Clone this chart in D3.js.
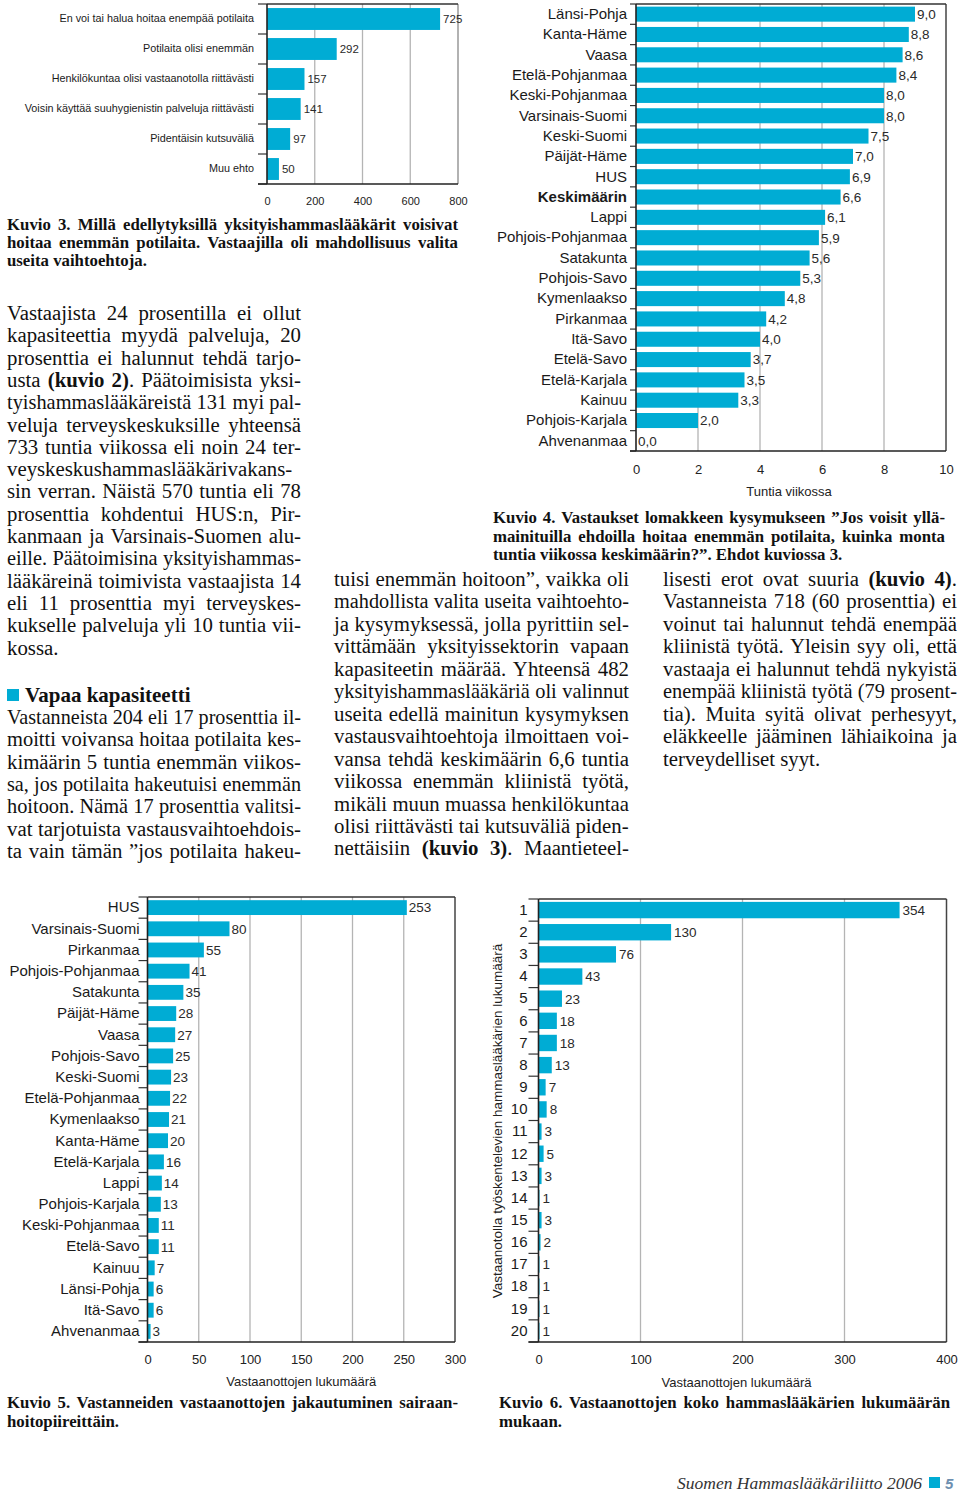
<!DOCTYPE html>
<html><head><meta charset="utf-8">
<script src="https://cdn.jsdelivr.net/npm/d3@7"></script>
<style>body{margin:0;background:#fff} svg{display:block}</style>
</head><body>
<svg id="page" width="960" height="1492"></svg>
<script>
// ---------- DATA ----------
const c3Categories = ["En voi tai halua hoitaa enempää potilaita","Potilaita olisi enemmän","Henkilökuntaa olisi vastaanotolla riittävästi","Voisin käyttää suuhygienistin palveluja riittävästi","Pidentäisin kutsuväliä","Muu ehto"];
const c3Values = [725,292,157,141,97,50];
const c3Ticks = [0,200,400,600,800];

const c4Categories = ["Länsi-Pohja","Kanta-Häme","Vaasa","Etelä-Pohjanmaa","Keski-Pohjanmaa","Varsinais-Suomi","Keski-Suomi","Päijät-Häme","HUS","Keskimäärin","Lappi","Pohjois-Pohjanmaa","Satakunta","Pohjois-Savo","Kymenlaakso","Pirkanmaa","Itä-Savo","Etelä-Savo","Etelä-Karjala","Kainuu","Pohjois-Karjala","Ahvenanmaa"];
const c4Values = [9.0,8.8,8.6,8.4,8.0,8.0,7.5,7.0,6.9,6.6,6.1,5.9,5.6,5.3,4.8,4.2,4.0,3.7,3.5,3.3,2.0,0.0];
const c4Ticks = [0,2,4,6,8,10];

const c5Categories = ["HUS","Varsinais-Suomi","Pirkanmaa","Pohjois-Pohjanmaa","Satakunta","Päijät-Häme","Vaasa","Pohjois-Savo","Keski-Suomi","Etelä-Pohjanmaa","Kymenlaakso","Kanta-Häme","Etelä-Karjala","Lappi","Pohjois-Karjala","Keski-Pohjanmaa","Etelä-Savo","Kainuu","Länsi-Pohja","Itä-Savo","Ahvenanmaa"];
const c5Values = [253,80,55,41,35,28,27,25,23,22,21,20,16,14,13,11,11,7,6,6,3];
const c5Ticks = [0,50,100,150,200,250,300];

const c6Categories = ["1","2","3","4","5","6","7","8","9","10","11","12","13","14","15","16","17","18","19","20"];
const c6Values = [354,130,76,43,23,18,18,13,7,8,3,5,3,1,3,2,1,1,1,1];
const c6Ticks = [0,100,200,300,400];

// ---------- STYLE ----------
const BLUE = "#00acd4";
const SANS = "'Liberation Sans', Arial, sans-serif";
const SERIF = "'Liberation Serif', 'Times New Roman', serif";
const svg = d3.select("#page");

function drawBar(o) {
  const g = svg.append("g");
  const x = d3.scaleLinear().domain([0, o.max]).range([o.left, o.right]);
  const y = d3.scaleBand().domain(o.cats).range([o.top, o.bottom]).padding(0);
  g.selectAll(null).data(o.ticks.filter(t => t > 0 && t < o.max)).join("line")
    .attr("x1", d => x(d)).attr("x2", d => x(d)).attr("y1", o.top).attr("y2", o.bottom)
    .attr("stroke", "#b4b4b4").attr("stroke-width", 1.3);
  g.append("line").attr("x1", x(o.max)).attr("x2", x(o.max)).attr("y1", o.top).attr("y2", o.bottom)
    .attr("stroke", o.rightColor).attr("stroke-width", 1.5);
  g.append("line").attr("x1", x(0)).attr("x2", x(o.max)).attr("y1", o.top).attr("y2", o.top)
    .attr("stroke", "#333").attr("stroke-width", 1.3);
  const pad = y.bandwidth() * o.pad;
  g.selectAll(null).data(o.cats).join("rect")
    .attr("x", x(0)).attr("y", d => y(d) + pad)
    .attr("width", (d, i) => x(o.vals[i]) - x(0))
    .attr("height", y.bandwidth() - 2 * pad)
    .attr("fill", BLUE);
  const bounds = o.cats.map(c => y(c)).concat([o.bottom]);
  g.selectAll(null).data(bounds).join("line")
    .attr("x1", x(0) - o.tickLen).attr("x2", x(0)).attr("y1", d => d).attr("y2", d => d)
    .attr("stroke", "#333").attr("stroke-width", 1.2);
  g.append("line").attr("x1", x(0)).attr("x2", x(0)).attr("y1", o.top).attr("y2", o.bottom)
    .attr("stroke", "#222").attr("stroke-width", 1.6);
  g.append("line").attr("x1", x(0) - o.tickLen).attr("x2", x(o.max)).attr("y1", o.bottom).attr("y2", o.bottom)
    .attr("stroke", "#222").attr("stroke-width", 1.6);
  const ya = g.append("g").attr("transform", `translate(${x(0)},0)`)
    .call(d3.axisLeft(y).tickSize(0).tickPadding(o.labelGap));
  ya.select(".domain").remove();
  ya.selectAll("text").attr("font-family", SANS).attr("font-size", o.labelFont).attr("fill", "#1a1a1a")
    .attr("font-weight", d => (o.bold && o.bold.includes(d)) ? "bold" : "normal");
  g.selectAll(null).data(o.cats).join("text")
    .attr("x", (d, i) => x(o.vals[i]) + o.valGap)
    .attr("y", d => y(d) + y.bandwidth() / 2).attr("dy", "0.36em")
    .attr("font-family", SANS).attr("font-size", o.valFont).attr("fill", "#2a2a2a")
    .text((d, i) => o.fmt(o.vals[i]));
  const xa = g.append("g").attr("transform", `translate(0,${o.bottom})`)
    .call(d3.axisBottom(x).tickValues(o.ticks).tickSize(0).tickPadding(o.tickPad).tickFormat(o.tickFmt || d3.format("d")));
  xa.select(".domain").remove();
  xa.selectAll("text").attr("font-family", SANS).attr("font-size", o.tickFont).attr("fill", "#222");
  if (o.title) {
    g.append("text").attr("x", (x(0) + x(o.max)) / 2 + (o.titleDx || 0)).attr("y", o.titleY)
      .attr("text-anchor", "middle").attr("font-family", SANS).attr("font-size", o.titleFont).attr("fill", "#222")
      .text(o.title);
  }
  return {x, y};
}

const fmtComma = v => d3.format(".1f")(v).replace(".", ",");

drawBar({cats: c3Categories, vals: c3Values, max: 800, ticks: c3Ticks, left: 267, right: 458, top: 4, bottom: 184,
  pad: 0.135, tickLen: 9, labelGap: 13, labelFont: 10.8, valFont: 11.5, valGap: 3, fmt: d3.format("d"),
  tickPad: 13, tickFont: 11, rightColor: "#999"});

drawBar({cats: c4Categories, vals: c4Values, max: 10, ticks: c4Ticks, left: 636, right: 946, top: 4, bottom: 451,
  pad: 0.13, tickLen: 6, labelGap: 9, labelFont: 15, valFont: 13.5, valGap: 2, fmt: fmtComma, bold: ["Keskimäärin"],
  tickPad: 14, tickFont: 13, rightColor: "#444", title: "Tuntia viikossa", titleY: 496, titleFont: 13, titleDx: -2});

drawBar({cats: c5Categories, vals: c5Values, max: 300, ticks: c5Ticks, left: 147.5, right: 455, top: 897, bottom: 1342,
  pad: 0.15, tickLen: 9, labelGap: 8, labelFont: 15, valFont: 13.5, valGap: 2, fmt: d3.format("d"),
  tickPad: 13, tickFont: 13, rightColor: "#444", title: "Vastaanottojen lukumäärä", titleY: 1386, titleFont: 13});

drawBar({cats: c6Categories, vals: c6Values, max: 400, ticks: c6Ticks, left: 538.5, right: 946.5, top: 899, bottom: 1342,
  pad: 0.13, tickLen: 10, labelGap: 11, labelFont: 15, valFont: 13.5, valGap: 3, fmt: d3.format("d"),
  tickPad: 13, tickFont: 13, rightColor: "#444", title: "Vastaanottojen lukumäärä", titleY: 1387, titleFont: 13, titleDx: -6});

svg.append("text").attr("transform", "translate(502,1121) rotate(-90)").attr("text-anchor", "middle")
  .attr("font-family", SANS).attr("font-size", 13.5).attr("fill", "#222")
  .text("Vastaanotolla työskentelevien hammaslääkärien lukumäärä");

// ---------- TEXT ----------
function textBlock(x, w, y0, pitch, lines, size, weight) {
  lines.forEach((ln, i) => {
    const t = svg.append("text").attr("x", x).attr("y", y0 + i * pitch)
      .attr("font-family", SERIF).attr("font-size", size).attr("fill", "#111")
      .attr("font-weight", weight || "normal");
    const parts = ln.t.split("**");
    parts.forEach((p, k) => {
      if (!p) return;
      t.append("tspan").attr("font-weight", k % 2 ? "bold" : null).text(p);
    });
    let w0 = t.node().getComputedTextLength();
    if (w0 > w) {
      // shrink the font so the line fits its column
      t.attr("font-size", size * (w - 0.5) / w0);
      w0 = t.node().getComputedTextLength();
    }
    if (ln.j) {
      const spaces = (ln.t.match(/ /g) || []).length;
      if (w0 < w - 0.5 && spaces > 0) {
        t.attr("word-spacing", (w - w0) / spaces);
      }
    }
  });
}
const J = t => ({t, j: true}), N = t => ({t, j: false});

// captions
const CS = 16.8;
textBlock(7, 451, 230, 18, [J("Kuvio 3. Millä edellytyksillä yksityishammaslääkärit voisivat"), J("hoitaa enemmän potilaita. Vastaajilla oli mahdollisuus valita"), N("useita vaihtoehtoja.")], CS, "bold");
textBlock(493, 452, 523, 18.7, [J("Kuvio 4. Vastaukset lomakkeen kysymukseen ”Jos voisit yllä-"), J("mainituilla ehdoilla hoitaa enemmän potilaita, kuinka monta"), N("tuntia viikossa keskimäärin?”. Ehdot kuviossa 3.")], CS, "bold");
textBlock(7, 451, 1408, 19, [J("Kuvio 5. Vastanneiden vastaanottojen jakautuminen sairaan-"), N("hoitopiireittäin.")], CS, "bold");
textBlock(499, 451, 1408, 19, [J("Kuvio 6. Vastaanottojen koko hammaslääkärien lukumäärän"), N("mukaan.")], CS, "bold");

// body columns
const BS = 20.8, PITCH = 22.3;
textBlock(7, 294, 320, PITCH, [
  J("Vastaajista 24 prosentilla ei ollut"), J("kapasiteettia myydä palveluja, 20"), J("prosenttia ei halunnut tehdä tarjo-"),
  J("usta **(kuvio 2)**. Päätoimisista yksi-"), J("tyishammaslääkäreistä 131 myi pal-"), J("veluja terveyskeskuksille yhteensä"),
  J("733 tuntia viikossa eli noin 24 ter-"), J("veyskeskushammaslääkärivakans-"), J("sin verran. Näistä 570 tuntia eli 78"),
  J("prosenttia kohdentui HUS:n, Pir-"), J("kanmaan ja Varsinais-Suomen alu-"), J("eille. Päätoimisina yksityishammas-"),
  J("lääkäreinä toimivista vastaajista 14"), J("eli 11 prosenttia myi terveyskes-"), J("kukselle palveluja yli 10 tuntia vii-"),
  N("kossa.")], BS);
svg.append("rect").attr("x", 7).attr("y", 689).attr("width", 12).attr("height", 12).attr("fill", BLUE);
svg.append("text").attr("x", 25).attr("y", 702).attr("font-family", SERIF).attr("font-size", 21)
  .attr("font-weight", "bold").attr("fill", "#111").text("Vapaa kapasiteetti");
textBlock(7, 294, 724, PITCH, [
  J("Vastanneista 204 eli 17 prosenttia il-"), J("moitti voivansa hoitaa potilaita kes-"), J("kimäärin 5 tuntia enemmän viikos-"),
  J("sa, jos potilaita hakeutuisi enemmän"), J("hoitoon. Nämä 17 prosenttia valitsi-"), J("vat tarjotuista vastausvaihtoehdois-"),
  J("ta vain tämän ”jos potilaita hakeu-")], BS);
textBlock(334, 295, 586, 22.45, [
  J("tuisi enemmän hoitoon”, vaikka oli"), J("mahdollista valita useita vaihtoehto-"), J("ja kysymyksessä, jolla pyrittiin sel-"),
  J("vittämään yksityissektorin vapaan"), J("kapasiteetin määrää. Yhteensä 482"), J("yksityishammaslääkäriä oli valinnut"),
  J("useita edellä mainitun kysymyksen"), J("vastausvaihtoehtoja ilmoittaen voi-"), J("vansa tehdä keskimäärin 6,6 tuntia"),
  J("viikossa enemmän kliinistä työtä,"), J("mikäli muun muassa henkilökuntaa"), J("olisi riittävästi tai kutsuväliä piden-"),
  J("nettäisiin **(kuvio 3)**. Maantieteel-")], BS);
textBlock(663, 294, 586, 22.45, [
  J("lisesti erot ovat suuria **(kuvio 4)**."), J("Vastanneista 718 (60 prosenttia) ei"), J("voinut tai halunnut tehdä enempää"),
  J("kliinistä työtä. Yleisin syy oli, että"), J("vastaaja ei halunnut tehdä nykyistä"), J("enempää kliinistä työtä (79 prosent-"),
  J("tia). Muita syitä olivat perhesyyt,"), J("eläkkeelle jääminen lähiaikoina ja"), N("terveydelliset syyt.")], BS);

// footer
svg.append("text").attr("x", 922).attr("y", 1489).attr("text-anchor", "end").attr("font-family", SERIF)
  .attr("font-style", "italic").attr("font-size", 17.5).attr("fill", "#333").text("Suomen Hammaslääkäriliitto 2006");
svg.append("rect").attr("x", 929).attr("y", 1477).attr("width", 11).attr("height", 11).attr("fill", BLUE);
svg.append("text").attr("x", 945).attr("y", 1489).attr("font-family", SANS).attr("font-weight", "bold")
  .attr("font-style", "italic").attr("font-size", 15).attr("fill", "#6d8fb0").text("5");
</script>
</body></html>
